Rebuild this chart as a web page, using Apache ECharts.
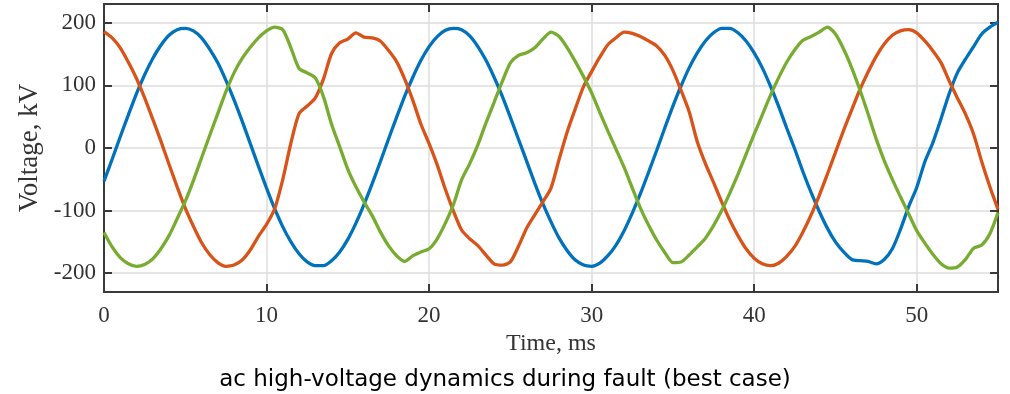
<!DOCTYPE html>
<html>
<head>
<meta charset="utf-8">
<script src="https://cdn.jsdelivr.net/npm/echarts@6/dist/echarts.min.js"></script>
<style>
  html, body { margin: 0; padding: 0; background: #ffffff; }
  #chart { width: 1010px; height: 394px; }
</style>
</head>
<body>
<div id="chart"></div>
<script>
// Sample instants, ms
const timeMs = [
  0, 0.5, 1, 1.5, 2, 2.5, 3, 3.5, 4, 4.5, 5, 5.5, 6, 6.5, 7, 7.5, 8, 8.5, 9, 9.5,
  10, 10.5, 11, 11.5, 12, 12.5, 13, 13.5, 14, 14.5, 15, 15.5, 16, 16.5, 17, 17.5, 18, 18.5, 19, 19.5,
  20, 20.5, 21, 21.5, 22, 22.5, 23, 23.5, 24, 24.5, 25, 25.5, 26, 26.5, 27, 27.5, 28, 28.5, 29, 29.5,
  30, 30.5, 31, 31.5, 32, 32.5, 33, 33.5, 34, 34.5, 35, 35.5, 36, 36.5, 37, 37.5, 38, 38.5, 39, 39.5,
  40, 40.5, 41, 41.5, 42, 42.5, 43, 43.5, 44, 44.5, 45, 45.5, 46, 46.5, 47, 47.5, 48, 48.5, 49, 49.5,
  50, 50.5, 51, 51.5, 52, 52.5, 53, 53.5, 54, 54.5, 55
];

// Phase voltages, kV
const phaseA = [
  -53, -18, 18, 53, 87, 117, 143, 164, 180, 189, 191, 187, 176, 158, 136, 108, 77, 43, 7, -29,
  -64, -97, -126, -150, -169, -182, -188, -188, -180, -166, -146, -120, -90, -57, -22, 14, 49, 83, 113, 140,
  162, 178, 188, 191, 189, 179, 162, 140, 113, 83, 49, 14, -21, -56, -89, -118, -144, -164, -179, -187,
  -189, -184, -172, -155, -132, -104, -73, -39, -4, 32, 67, 99, 128, 152, 171, 184, 191, 191, 184, 171,
  152, 128, 99, 67, 32, -2, -38, -71, -101, -128, -150, -166, -178, -180, -181, -185, -178, -161, -130, -94,
  -63, -22, 9, 47, 87, 120, 142, 162, 182, 193, 201
];
const phaseB = [
  186, 176, 160, 137, 111, 80, 46, 11, -26, -62, -96, -125, -151, -170, -183, -189, -187, -179, -163, -141,
  -122, -97, -50, 8, 55, 67, 80, 110, 151, 168, 174, 184, 177, 176, 171, 156, 138, 110, 76, 38,
  7, -27, -66, -101, -131, -145, -156, -171, -185, -187, -182, -157, -128, -107, -86, -64, -18, 26, 63, 98,
  122, 145, 165, 176, 185, 183, 178, 171, 163, 148, 124, 92, 58, 10, -25, -55, -86, -115, -140, -161,
  -176, -185, -188, -184, -173, -157, -134, -107, -76, -42, -7, 28, 61, 93, 121, 146, 166, 180, 187, 189,
  184, 171, 155, 136, 107, 80, 54, 22, -22, -62, -98
];
const phaseC = [
  -135, -158, -175, -185, -189, -186, -177, -161, -140, -113, -85, -52, -16, 20, 55, 90, 120, 143, 161, 176,
  187, 193, 189, 160, 127, 120, 112, 82, 38, 2, -34, -62, -86, -108, -134, -156, -172, -181, -172, -166,
  -161, -145, -120, -90, -51, -25, 5, 40, 73, 106, 136, 148, 152, 160, 174, 185, 178, 160, 138, 114,
  88, 57, 27, -2, -31, -64, -96, -123, -147, -167, -183, -182, -171, -158, -144, -124, -100, -72, -42, -10,
  22, 53, 84, 112, 137, 157, 172, 178, 185, 193, 182, 158, 128, 93, 55, 15, -20, -50, -78, -105,
  -132, -152, -170, -185, -192, -190, -178, -160, -155, -137, -103
];

const xTickValues = [0, 10, 20, 30, 40, 50];
const yTickValues = [-200, -100, 0, 100, 200];

const lineColors = ['#0072BD', '#D95319', '#77AC30'];
const serif = 'Liberation Serif';
const frameColor = '#3a3a3a';
const gridColor = '#dcdcdc';

const pairs = (vals) => timeMs.map((t, i) => [t, vals[i]]);

const frameLine = { show: true, onZero: false, lineStyle: { color: frameColor, width: 2 } };
const innerTick = (vals) => ({ show: true, inside: true, length: 8, customValues: vals,
  lineStyle: { color: frameColor, width: 2 } });

const chart = echarts.init(document.getElementById('chart'), null, { renderer: 'canvas' });
chart.setOption({
  animation: false,
  backgroundColor: '#ffffff',
  title: {
    text: 'ac high-voltage dynamics during fault (best case)',
    left: 'center',
    top: 364,
    textStyle: { fontFamily: 'DejaVu Sans', fontSize: 23, fontWeight: 'normal', color: '#000000' }
  },
  grid: { left: 104, right: 12, top: 4, bottom: 102, containLabel: false },
  xAxis: [
    {
      type: 'value', min: 0, max: 55, position: 'bottom',
      name: 'Time, ms', nameLocation: 'middle', nameGap: 39,
      nameTextStyle: { fontFamily: serif, fontSize: 24, color: '#333333' },
      axisLine: frameLine,
      axisTick: innerTick(xTickValues),
      axisLabel: { customValues: xTickValues, margin: 12, fontFamily: serif, fontSize: 23, color: '#333333' },
      splitLine: { show: true, lineStyle: { color: gridColor, width: 1.5 } }
    },
    {
      type: 'value', min: 0, max: 55, position: 'top',
      axisLine: frameLine,
      axisTick: innerTick(xTickValues),
      axisLabel: { show: false },
      splitLine: { show: false }
    }
  ],
  yAxis: [
    {
      type: 'value', min: -230, max: 230, position: 'left',
      name: 'Voltage, kV', nameLocation: 'middle', nameGap: 51,
      nameTextStyle: { fontFamily: serif, fontSize: 27, color: '#333333' },
      axisLine: frameLine,
      axisTick: innerTick(yTickValues),
      axisLabel: { customValues: yTickValues, margin: 8, fontFamily: serif, fontSize: 23, color: '#333333' },
      splitLine: { show: true, lineStyle: { color: gridColor, width: 1.5 } }
    },
    {
      type: 'value', min: -230, max: 230, position: 'right',
      axisLine: frameLine,
      axisTick: innerTick(yTickValues),
      axisLabel: { show: false },
      splitLine: { show: false }
    }
  ],
  series: [phaseA, phaseB, phaseC].map((vals, k) => ({
    type: 'line',
    xAxisIndex: 0,
    yAxisIndex: 0,
    data: pairs(vals),
    showSymbol: false,
    smooth: 0.25,
    clip: true,
    lineStyle: { color: lineColors[k], width: 3.3 },
    itemStyle: { color: lineColors[k] },
    z: 3 + k
  }))
});
</script>
</body>
</html>
